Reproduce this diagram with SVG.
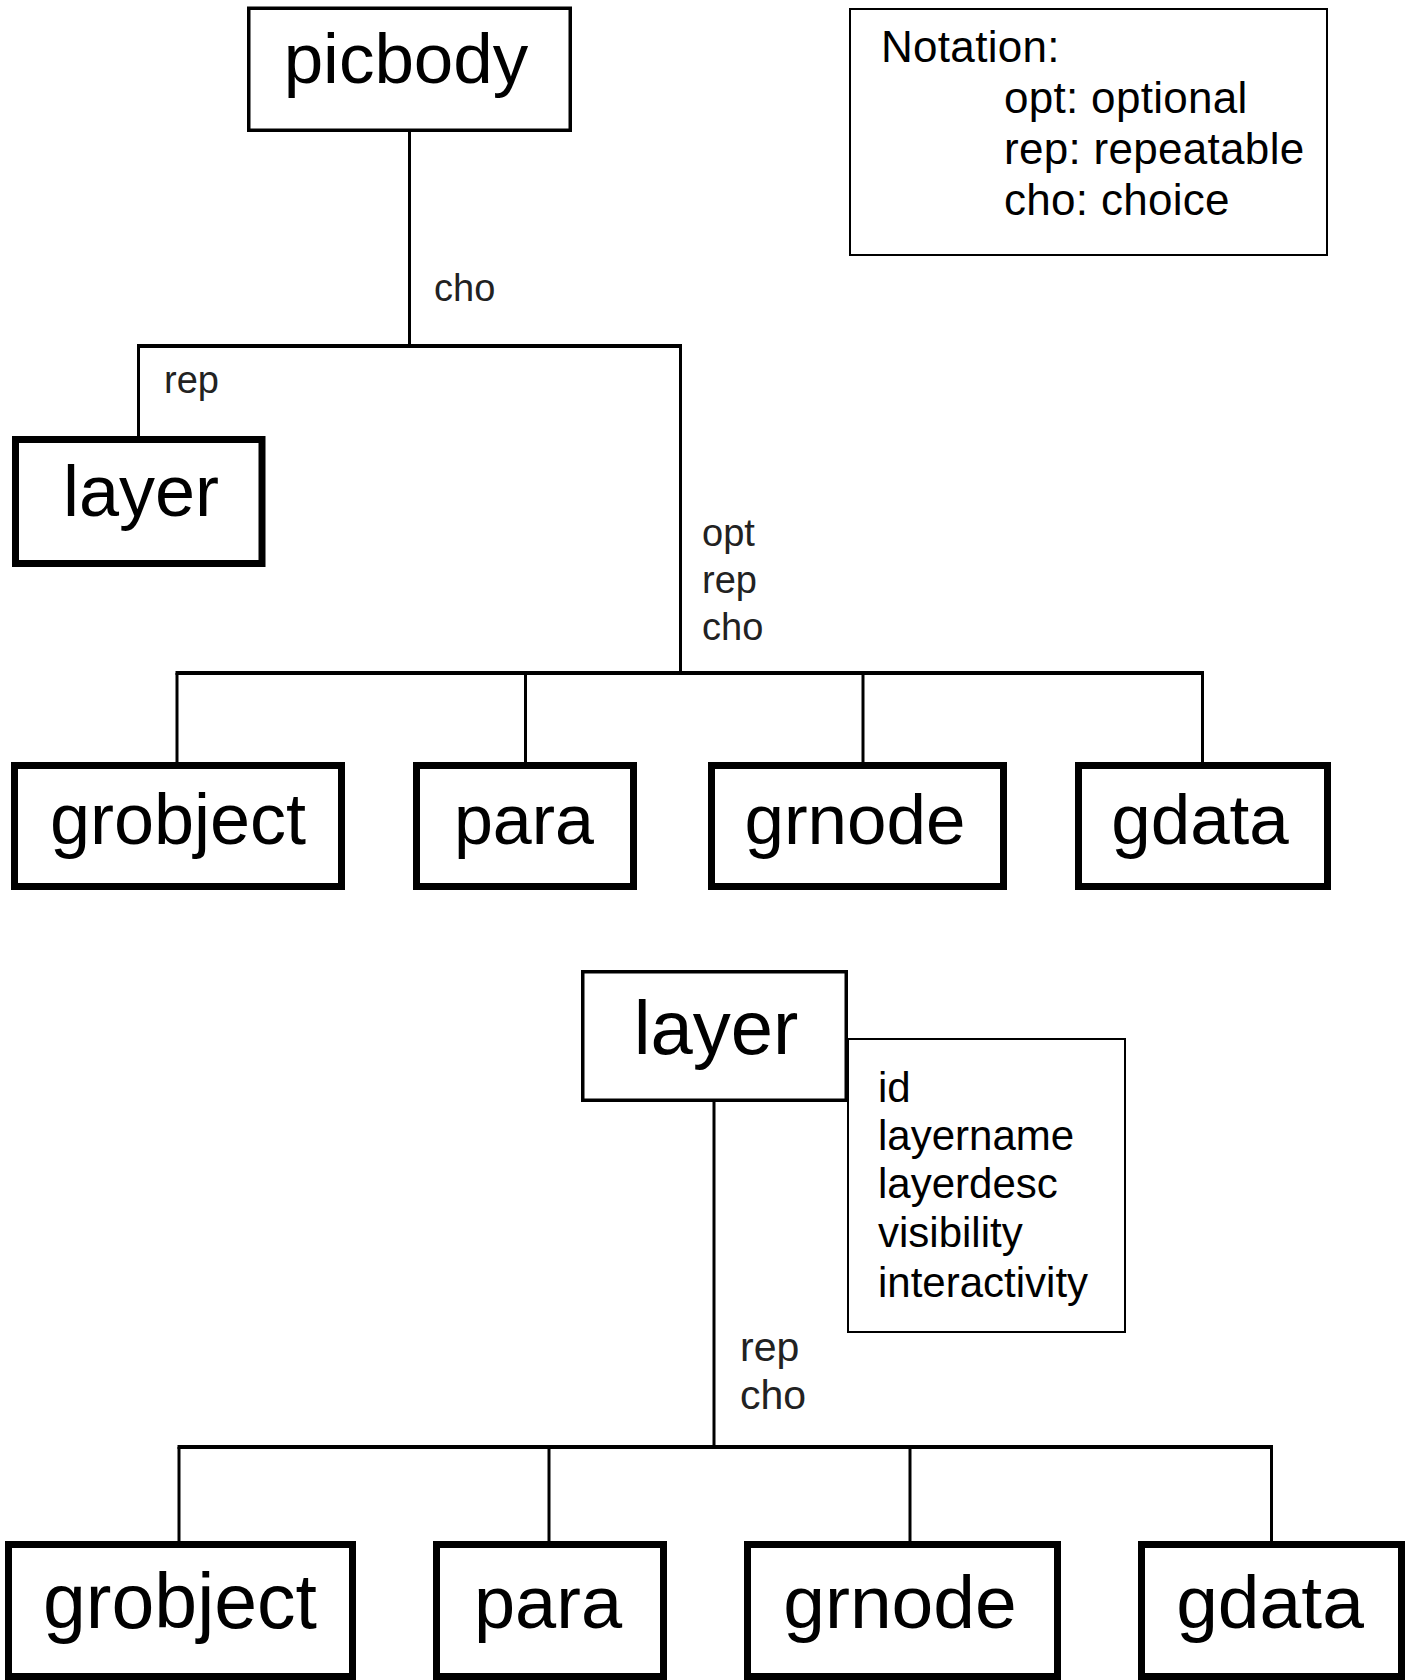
<svg xmlns="http://www.w3.org/2000/svg" width="1405" height="1680" viewBox="0 0 1405 1680">
<style>
text{font-family:"Liberation Sans",Arial,sans-serif;fill:#000}
.box{fill:#fff;stroke:#000}
.med{stroke-width:3.5}
.thick{stroke-width:7}
.thin{stroke-width:2}
.name{text-anchor:middle}
.lbl{fill:#222}
.nt{font-size:44px;letter-spacing:0.3px}
.c{stroke:#000;fill:none;stroke-width:3}
.h{stroke:#000;fill:none;stroke-width:4}
</style>
<rect width="1405" height="1680" fill="#fff"/>
<g id="connectors">
<line class="c" x1="409.5" y1="132" x2="409.5" y2="346"/>
<line class="h" x1="137" y1="346" x2="682" y2="346"/>
<line class="c" x1="138.5" y1="346" x2="138.5" y2="437"/>
<line class="c" x1="680.5" y1="346" x2="680.5" y2="673"/>
<line class="h" x1="175.5" y1="673" x2="1204" y2="673"/>
<line class="c" x1="177" y1="673" x2="177" y2="763"/>
<line class="c" x1="525.5" y1="673" x2="525.5" y2="763"/>
<line class="c" x1="863" y1="673" x2="863" y2="763"/>
<line class="c" x1="1202.5" y1="673" x2="1202.5" y2="763"/>
<line class="c" x1="714" y1="1102" x2="714" y2="1447"/>
<line class="h" x1="177.5" y1="1447" x2="1273" y2="1447"/>
<line class="c" x1="179" y1="1447" x2="179" y2="1542"/>
<line class="c" x1="549" y1="1447" x2="549" y2="1542"/>
<line class="c" x1="910" y1="1447" x2="910" y2="1542"/>
<line class="c" x1="1271.5" y1="1447" x2="1271.5" y2="1542"/>
<text class="lbl" x="434" y="301" font-size="38">cho</text>
<text class="lbl" x="164" y="393" font-size="38">rep</text>
<text class="lbl" x="702" y="546" font-size="38">opt</text>
<text class="lbl" x="702" y="593" font-size="38">rep</text>
<text class="lbl" x="702" y="640" font-size="38">cho</text>
<text class="lbl" x="740" y="1361" font-size="41">rep</text>
<text class="lbl" x="740" y="1409" font-size="41">cho</text>
</g>
<g id="notation">
<rect class="box thin" x="850" y="9" width="477" height="246"/>
<text class="nt" x="881" y="62">Notation:</text>
<text class="nt" x="1004" y="113">opt: optional</text>
<text class="nt" x="1004" y="164">rep: repeatable</text>
<text class="nt" x="1004" y="215">cho: choice</text>
</g>
<g id="picbody">
<rect class="box med" x="248.75" y="8.25" width="321.5" height="122"/>
<text class="name" x="406" y="83" font-size="71">picbody</text>
</g>
<g id="layer1">
<rect class="box thick" x="15.5" y="439.5" width="246.5" height="124"/>
<text class="name" x="141" y="516" font-size="72">layer</text>
</g>
<g id="grobject1">
<rect class="box thick" x="14.5" y="765.5" width="327" height="121"/>
<text class="name" x="178" y="844" font-size="72">grobject</text>
</g>
<g id="para1">
<rect class="box thick" x="416.5" y="765.5" width="217" height="121"/>
<text class="name" x="524" y="844" font-size="70">para</text>
</g>
<g id="grnode1">
<rect class="box thick" x="711.5" y="765.5" width="292" height="121"/>
<text class="name" x="855" y="844" font-size="71">grnode</text>
</g>
<g id="gdata1">
<rect class="box thick" x="1078.5" y="765.5" width="249" height="121"/>
<text class="name" x="1200" y="844" font-size="71">gdata</text>
</g>
<g id="layer2">
<rect class="box med" x="582.75" y="971.75" width="263.5" height="128.5"/>
<text class="name" x="716" y="1054" font-size="76">layer</text>
</g>
<g id="layer-attributes">
<rect class="box thin" x="848" y="1039" width="277" height="293"/>
<text x="878" y="1102" font-size="42">id</text>
<text x="878" y="1150" font-size="42">layername</text>
<text x="878" y="1198" font-size="42">layerdesc</text>
<text x="878" y="1247" font-size="42">visibility</text>
<text x="878" y="1297" font-size="42">interactivity</text>
</g>
<g id="grobject2">
<rect class="box thick" x="8.5" y="1544.5" width="344" height="132"/>
<text class="name" x="180" y="1628" font-size="77">grobject</text>
</g>
<g id="para2">
<rect class="box thick" x="436.5" y="1544.5" width="227" height="132"/>
<text class="name" x="548" y="1628" font-size="74">para</text>
</g>
<g id="grnode2">
<rect class="box thick" x="747.5" y="1544.5" width="310" height="132"/>
<text class="name" x="900" y="1628" font-size="75">grnode</text>
</g>
<g id="gdata2">
<rect class="box thick" x="1141.5" y="1544.5" width="260" height="132"/>
<text class="name" x="1270" y="1628" font-size="75">gdata</text>
</g>
</svg>
